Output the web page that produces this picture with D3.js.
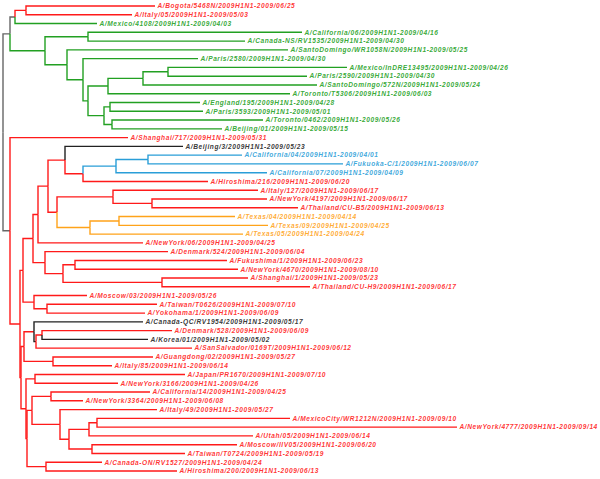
<!DOCTYPE html>
<html>
<head>
<meta charset="utf-8">
<script src="https://cdn.jsdelivr.net/npm/d3@7"></script>
<style>
  body { margin: 0; background: #fff; }
  .lbl { font-family: "Liberation Sans", Arial, sans-serif; font-size: 6.6px; font-style: italic; font-weight: bold; letter-spacing: 0.55px; }
</style>
</head>
<body>
<div id="chart"></div>
<script>
// --- tree: [node, parent, branch length] in top-to-bottom order ---
const edges = [
  ["root", "", 0],
  ["N1", "root", 0.07],
  ["N2", "N1", 0.05],
  ["R1", "N2", 0.11],
  ["A/Bogota/5468N/2009H1N1-2009/06/25", "R1", 1.29],
  ["A/Italy/05/2009H1N1-2009/05/03", "R1", 1.06],
  ["A/Mexico/4108/2009H1N1-2009/04/03", "N2", 0.82],
  ["G", "N1", 0.35],
  ["Ga", "G", 0.43],
  ["A/California/06/2009H1N1-2009/04/16", "Ga", 2.14],
  ["A/Canada-NS/RV1535/2009H1N1-2009/04/30", "Ga", 1.57],
  ["Gb", "G", 0.22],
  ["A/SantoDomingo/WR1058N/2009H1N1-2009/05/25", "Gb", 2.21],
  ["Gc", "Gb", 0.16],
  ["A/Paris/2580/2009H1N1-2009/04/30", "Gc", 1.15],
  ["Gd", "Gc", 0.05],
  ["Ge", "Gd", 0.20],
  ["Gf", "Ge", 0.35],
  ["Gg", "Gf", 0.25],
  ["A/Mexico/InDRE13495/2009H1N1-2009/04/26", "Gg", 1.79],
  ["A/Paris/2590/2009H1N1-2009/04/30", "Gg", 1.39],
  ["A/SantoDomingo/572N/2009H1N1-2009/05/24", "Gf", 1.74],
  ["A/Toronto/T5306/2009H1N1-2009/06/03", "Ge", 1.82],
  ["Gh", "Gd", 0.16],
  ["Gi", "Gh", 0.06],
  ["A/England/195/2009H1N1-2009/04/28", "Gi", 0.90],
  ["A/Paris/3593/2009H1N1-2009/05/01", "Gi", 0.93],
  ["Gj", "Gh", 0.08],
  ["A/Toronto/0462/2009H1N1-2009/05/26", "Gj", 1.51],
  ["A/Beijing/01/2009H1N1-2009/05/15", "Gj", 1.10],
  ["B", "root", 0.07],
  ["A/Shanghai/717/2009H1N1-2009/05/31", "B", 1.18],
  ["B2", "B", 0.10],
  ["Z", "B2", 0.03],
  ["W", "Z", 0.10],
  ["V", "W", 0.05],
  ["R", "V", 0.10],
  ["P", "R", 0.17],
  ["A/Beijing/3/2009H1N1-2009/05/23", "P", 1.18],
  ["Q", "P", 0.18],
  ["BL", "Q", 0.33],
  ["BL2", "BL", 0.32],
  ["A/California/04/2009H1N1-2009/04/01", "BL2", 0.94],
  ["A/Fukuoka-C/1/2009H1N1-2009/06/07", "BL2", 1.95],
  ["A/California/07/2009H1N1-2009/04/09", "BL", 1.51],
  ["A/Hiroshima/216/2009H1N1-2009/06/20", "Q", 1.25],
  ["S", "R", 0.09],
  ["T", "S", 0.56],
  ["A/Italy/127/2009H1N1-2009/06/17", "T", 1.45],
  ["T2", "T", 0.39],
  ["A/NewYork/4197/2009H1N1-2009/06/17", "T2", 1.15],
  ["A/Thailand/CU-B5/2009H1N1-2009/06/13", "T2", 1.46],
  ["U", "S", 0.33],
  ["U2", "U", 0.29],
  ["A/Texas/04/2009H1N1-2009/04/14", "U2", 1.16],
  ["A/Texas/09/2009H1N1-2009/04/25", "U2", 1.49],
  ["A/Texas/05/2009H1N1-2009/04/24", "U", 1.53],
  ["A/NewYork/06/2009H1N1-2009/04/25", "V", 1.05],
  ["X", "W", 0.12],
  ["A/Denmark/524/2009H1N1-2009/06/04", "X", 1.23],
  ["X2", "X", 0.18],
  ["X3", "X2", 0.12],
  ["A/Fukushima/1/2009H1N1-2009/06/23", "X3", 1.52],
  ["A/NewYork/4670/2009H1N1-2009/08/10", "X3", 1.63],
  ["X4", "X2", 0.99],
  ["A/Shanghai/1/2009H1N1-2009/05/23", "X4", 0.86],
  ["A/Thailand/CU-H9/2009H1N1-2009/06/17", "X4", 1.48],
  ["Y", "Z", 0.11],
  ["A/Moscow/03/2009H1N1-2009/05/26", "Y", 0.53],
  ["Y2", "Y", 0.13],
  ["A/Taiwan/T0626/2009H1N1-2009/07/10", "Y2", 1.10],
  ["A/Yokohama/1/2009H1N1-2009/06/09", "Y2", 0.98],
  ["B5", "B2", 0.01],
  ["AG", "B5", 0.03],
  ["AC", "AG", 0.10],
  ["A/Canada-QC/RV1954/2009H1N1-2009/05/17", "AC", 1.09],
  ["AD", "AC", 0.02],
  ["AE", "AD", 0.06],
  ["A/Denmark/528/2009H1N1-2009/06/09", "AE", 1.30],
  ["A/Korea/01/2009H1N1-2009/05/02", "AE", 1.06],
  ["A/SanSalvador/0169T/2009H1N1-2009/06/12", "AD", 1.56],
  ["AF", "AG", 0.29],
  ["A/Guangdong/02/2009H1N1-2009/05/27", "AF", 1.00],
  ["A/Italy/85/2009H1N1-2009/06/14", "AF", 0.59],
  ["AT", "B5", 0.05],
  ["AH", "AT", 0.09],
  ["A/Japan/PR1670/2009H1N1-2009/07/10", "AH", 1.50],
  ["A/NewYork/3166/2009H1N1-2009/04/26", "AH", 0.83],
  ["AP", "AT", 0.01],
  ["AO", "AP", 0.05],
  ["AI", "AO", 0.19],
  ["A/California/14/2009H1N1-2009/04/25", "AI", 0.99],
  ["A/NewYork/3364/2009H1N1-2009/06/08", "AI", 0.32],
  ["AJ", "AO", 0.28],
  ["A/Italy/49/2009H1N1-2009/05/27", "AJ", 0.97],
  ["AK", "AJ", 0.09],
  ["AL", "AK", 0.20],
  ["AN", "AL", 0.08],
  ["A/MexicoCity/WR1212N/2009H1N1-2009/09/10", "AN", 1.93],
  ["A/NewYork/4777/2009H1N1-2009/09/14", "AN", 3.60],
  ["A/Utah/05/2009H1N1-2009/06/14", "AL", 1.64],
  ["AM", "AK", 0.23],
  ["A/Moscow/IIV05/2009H1N1-2009/06/20", "AM", 1.45],
  ["A/Taiwan/T0724/2009H1N1-2009/05/19", "AM", 0.93],
  ["AQ", "AP", 0.19],
  ["A/Canada-ON/RV1527/2009H1N1-2009/04/24", "AQ", 0.56],
  ["A/Hiroshima/200/2009H1N1-2009/06/13", "AQ", 1.31]
];

// lineage group of a node; descendants inherit it unless listed here
const groupOf = [
  ["root", "grey"], ["N1", "grey"], ["N2", "grey"], ["R1", "red"],
  ["A/Mexico/4108/2009H1N1-2009/04/03", "green"], ["G", "green"],
  ["B", "grey"], ["A/Shanghai/717/2009H1N1-2009/05/31", "red"], ["B2", "red"],
  ["A/Beijing/3/2009H1N1-2009/05/23", "black"], ["BL", "blue"], ["U", "orange"],
  ["A/Canada-QC/RV1954/2009H1N1-2009/05/17", "black"], ["AD", "black"], ["AE", "red"],
  ["A/Korea/01/2009H1N1-2009/05/02", "black"],
  ["A/SanSalvador/0169T/2009H1N1-2009/06/12", "red"]
];
const groupNames = ["grey", "red", "green", "blue", "orange", "black"];
const groupColors = ["#666666", "#ff1a1a", "#22a022", "#2a9ed8", "#ffa31a", "#222222"];

const width = 600, height = 479;
const color = d3.scaleOrdinal().domain(groupNames).range(groupColors);
const groupMap = new Map(groupOf);

const root = d3.stratify()
  .id(d => d[0])
  .parentId(d => d[1] || null)(edges);

// cumulative branch length and inherited group
root.eachBefore(n => {
  n.len = n.parent ? n.parent.len + n.data[2] : 0;
  n.group = groupMap.get(n.id) || (n.parent ? n.parent.group : "grey");
});

const x = d3.scaleLinear().domain([0, 3.5]).range([3, 353]);
const leaves = root.leaves();
const y = d3.scalePoint().domain(leaves.map(d => d.id)).range([6, 471]);

root.eachAfter(n => {
  n.px = x(n.len);
  if (n.children) {
    n.py = (n.children[0].py + n.children[n.children.length - 1].py) / 2;
  } else {
    n.py = y(n.id);
  }
});

const svg = d3.select("#chart").append("svg")
  .attr("width", width)
  .attr("height", height);

svg.append("g")
  .attr("fill", "none")
  .attr("stroke-width", 1.4)
  .selectAll("path")
  .data(root.descendants().slice(1))
  .join("path")
    .attr("stroke", d => color(d.group))
    .attr("d", d => `M${d.parent.px},${d.parent.py}V${d.py}H${d.px}`);

svg.append("g")
  .selectAll("text")
  .data(leaves)
  .join("text")
    .attr("class", "lbl")
    .attr("x", d => d.px + 2.5)
    .attr("y", d => d.py)
    .attr("dy", "0.35em")
    .attr("fill", d => color(d.group))
    .attr("fill-opacity", 0.9)
    .text(d => d.id);
</script>
</body>
</html>
